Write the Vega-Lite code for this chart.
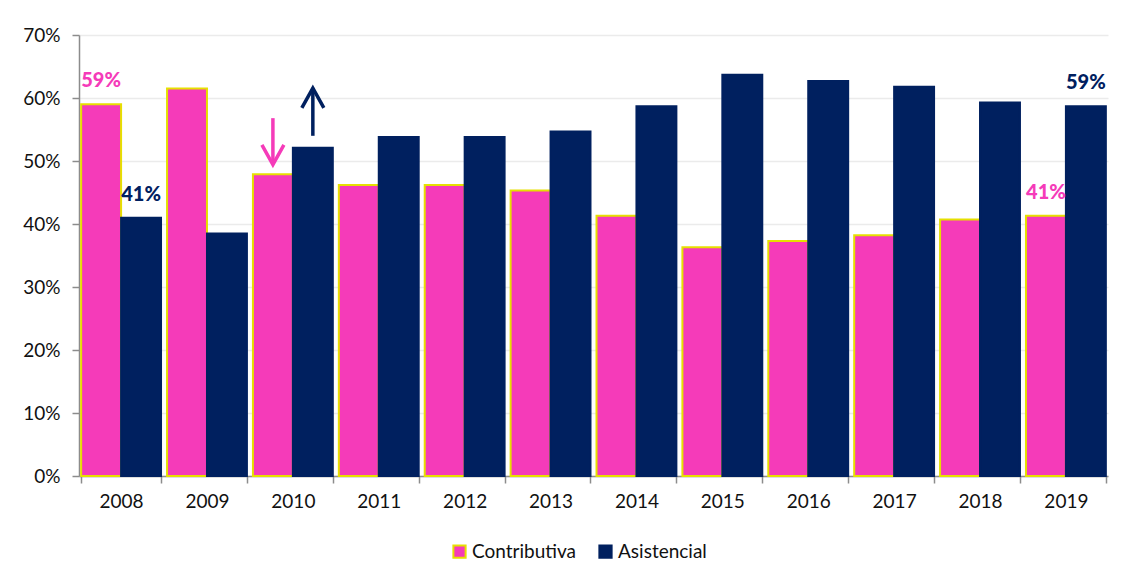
{
  "$schema": "https://vega.github.io/schema/vega-lite/v6.json",
  "width": 1029,
  "height": 441,
  "autosize": {"type": "none"},
  "padding": {"left": 79, "top": 35, "right": 16, "bottom": 104},
  "background": "white",
  "config": {
    "view": {"stroke": null},
    "font": "Lato",
    "axis": {
      "labelFont": "Lato",
      "labelFontSize": 19,
      "labelColor": "#111111",
      "domainColor": "#8c8c8c",
      "domainWidth": 1.5,
      "tickColor": "#8c8c8c",
      "tickWidth": 1.5,
      "tickSize": 7,
      "title": null
    },
    "legend": {
      "labelFont": "Lato",
      "labelFontSize": 19,
      "labelColor": "#111111"
    }
  },
  "datasets": {
    "bars": [
      {"year": "2008", "series": "Contributiva", "value": 59.0},
      {"year": "2008", "series": "Asistencial", "value": 41.0},
      {"year": "2009", "series": "Contributiva", "value": 61.5},
      {"year": "2009", "series": "Asistencial", "value": 38.5},
      {"year": "2010", "series": "Contributiva", "value": 47.9},
      {"year": "2010", "series": "Asistencial", "value": 52.1},
      {"year": "2011", "series": "Contributiva", "value": 46.2},
      {"year": "2011", "series": "Asistencial", "value": 53.8},
      {"year": "2012", "series": "Contributiva", "value": 46.2},
      {"year": "2012", "series": "Asistencial", "value": 53.8},
      {"year": "2013", "series": "Contributiva", "value": 45.3},
      {"year": "2013", "series": "Asistencial", "value": 54.7},
      {"year": "2014", "series": "Contributiva", "value": 41.3},
      {"year": "2014", "series": "Asistencial", "value": 58.7},
      {"year": "2015", "series": "Contributiva", "value": 36.3},
      {"year": "2015", "series": "Asistencial", "value": 63.7},
      {"year": "2016", "series": "Contributiva", "value": 37.3},
      {"year": "2016", "series": "Asistencial", "value": 62.7},
      {"year": "2017", "series": "Contributiva", "value": 38.2},
      {"year": "2017", "series": "Asistencial", "value": 61.8},
      {"year": "2018", "series": "Contributiva", "value": 40.7},
      {"year": "2018", "series": "Asistencial", "value": 59.3},
      {"year": "2019", "series": "Contributiva", "value": 41.3},
      {"year": "2019", "series": "Asistencial", "value": 58.7}
    ],
    "labels": [
      {"year": "2008", "series": "Contributiva", "value": 59.0, "label": "59%"},
      {"year": "2008", "series": "Asistencial", "value": 41.0, "label": "41%"},
      {"year": "2019", "series": "Contributiva", "value": 41.3, "label": "41%"},
      {"year": "2019", "series": "Asistencial", "value": 58.7, "label": "59%"}
    ],
    "arrows": [
      {"year": "2010", "series": "Contributiva", "top": 56.8, "bottom": 49.6, "head": 51.0},
      {"year": "2010", "series": "Asistencial", "top": 61.6, "bottom": 54.0, "head": 60.0}
    ]
  },
  "layer": [
    {
      "data": {"name": "bars"},
      "mark": {"type": "bar", "strokeWidth": 2},
      "encoding": {
        "x": {
          "field": "year", "type": "nominal",
          "scale": {"paddingInner": 0.07, "paddingOuter": 0.025},
          "axis": {"labelAngle": 0, "tickBand": "extent", "labelPadding": 9, "grid": false}
        },
        "xOffset": {
          "field": "series", "type": "nominal",
          "scale": {"domain": ["Contributiva", "Asistencial"], "paddingInner": 0}
        },
        "y": {
          "field": "value", "type": "quantitative",
          "scale": {"domain": [0, 70], "nice": false},
          "axis": {
            "values": [0, 10, 20, 30, 40, 50, 60, 70],
            "labelExpr": "datum.value + '%'",
            "labelPadding": 12,
            "grid": true,
            "gridColor": "#ebebeb",
            "gridWidth": 1.5
          }
        },
        "fill": {
          "field": "series", "type": "nominal",
          "scale": {"domain": ["Contributiva", "Asistencial"], "range": ["#f53bb9", "#00205f"]},
          "legend": {
            "title": null, "orient": "none", "legendX": 371, "legendY": 507, "direction": "horizontal",
            "symbolType": "square", "symbolSize": 150,
            "symbolStrokeWidth": 2, "labelOffset": 3, "columnPadding": 18
          }
        },
        "stroke": {
          "field": "series", "type": "nominal",
          "scale": {"domain": ["Contributiva", "Asistencial"], "range": ["#e6e000", "#00205f"]},
          "legend": {
            "title": null, "orient": "none", "legendX": 371, "legendY": 507, "direction": "horizontal",
            "symbolType": "square", "symbolSize": 150,
            "symbolStrokeWidth": 2, "labelOffset": 3, "columnPadding": 18
          }
        }
      }
    },
    {
      "data": {"name": "labels"},
      "mark": {"type": "text", "fontWeight": 900, "fontSize": 20, "baseline": "alphabetic", "dy": -17, "font": "Lato"},
      "encoding": {
        "x": {"field": "year", "type": "nominal"},
        "xOffset": {"field": "series", "type": "nominal"},
        "y": {"field": "value", "type": "quantitative"},
        "text": {"field": "label"},
        "fill": {"field": "series", "type": "nominal"}
      }
    },
    {
      "data": {"name": "arrows"},
      "mark": {"type": "rule", "strokeWidth": 3.5},
      "encoding": {
        "x": {"field": "year", "type": "nominal"},
        "xOffset": {"field": "series", "type": "nominal"},
        "y": {"field": "top", "type": "quantitative"},
        "y2": {"field": "bottom"},
        "color": {
          "field": "series", "type": "nominal",
          "scale": {"domain": ["Contributiva", "Asistencial"], "range": ["#f53bb9", "#00205f"]},
          "legend": null
        }
      }
    },
    {
      "data": {"name": "arrows"},
      "transform": [{"filter": "datum.series === 'Contributiva'"}],
      "mark": {"type": "point", "shape": "M-1,-0.9L0,0.9L1,-0.9", "filled": false, "strokeWidth": 3.5, "size": 484, "color": "#f53bb9", "opacity": 1},
      "encoding": {
        "x": {"field": "year", "type": "nominal"},
        "xOffset": {"field": "series", "type": "nominal"},
        "y": {"field": "head", "type": "quantitative"}
      }
    },
    {
      "data": {"name": "arrows"},
      "transform": [{"filter": "datum.series === 'Asistencial'"}],
      "mark": {"type": "point", "shape": "M-1,0.9L0,-0.9L1,0.9", "filled": false, "strokeWidth": 3.5, "size": 484, "color": "#00205f", "opacity": 1},
      "encoding": {
        "x": {"field": "year", "type": "nominal"},
        "xOffset": {"field": "series", "type": "nominal"},
        "y": {"field": "head", "type": "quantitative"}
      }
    }
  ]
}
